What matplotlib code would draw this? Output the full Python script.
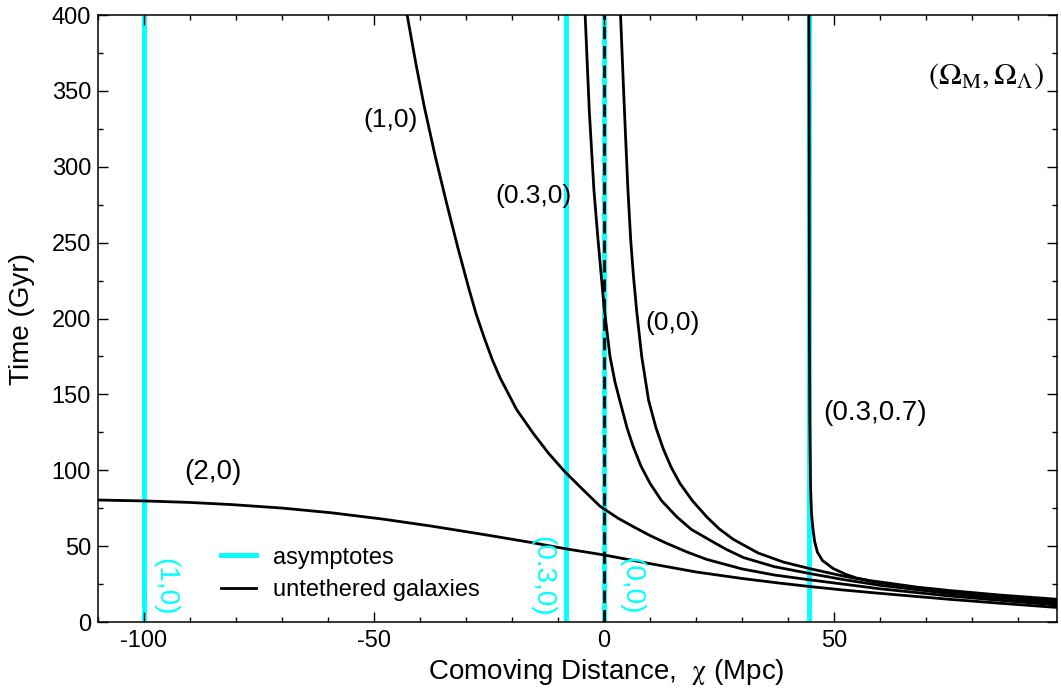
import matplotlib
matplotlib.use('Agg')
import matplotlib.pyplot as plt
from matplotlib.lines import Line2D
from matplotlib.ticker import MultipleLocator

plt.rcParams['font.family'] = ['Liberation Sans', 'DejaVu Sans']
plt.rcParams['mathtext.fontset'] = 'stix'
plt.rcParams['axes.unicode_minus'] = False

# asymptotes (comoving distance, Mpc)
asym_x = [-100, -8.3, 0, 44.6]

# untethered galaxy curves: chi (Mpc), t (Gyr)
chi_20 = [-110, -100, -90, -81, -70, -59.3, -48, -37.5, -26, -15.8, -8, 0, 10, 20,
          30, 38, 45, 52, 60, 75, 86, 98.5]
t_20 = [80.4, 79.8, 78.8, 77.4, 75.1, 72.0, 67.8, 63.2, 57.6, 52.4, 48.1, 44.2, 38.5, 33.0,
        28.7, 25.7, 23.3, 21.1, 18.9, 15.0, 12.4, 9.6]

chi_10 = [-42.8, -40.9, -39.1, -36.7, -34.3, -31.8, -29.5, -27.8, -26, -24.3, -22.6, -19,
          -15.4, -12, -8.5, -4.5, -0.9, 3, 6.4, 10, 13.6, 18, 22.3, 30, 37, 45, 60, 75, 86, 98.5]
t_10 = [400, 368, 340, 307, 277, 247, 221, 203, 187, 173, 161, 140,
        124.4, 111, 99, 87, 76.4, 68.5, 62.8, 57, 51.9, 46.2, 41.3, 35, 31, 27.7, 21.9, 17.2, 14.3, 11.2]

chi_030 = [-4.1, -3.2, -2.2, -1.3, 0, 1.3, 2.4, 3.6, 5, 6.3, 8, 10, 12.5, 15.8, 19, 23,
           26.5, 30.3, 37, 45, 52, 60, 75, 86, 98.5]
t_030 = [400, 337, 285, 252, 208, 175, 158, 144, 128, 116, 103, 91.4, 80, 69.4, 61, 54,
         48.0, 42.5, 36.5, 31.8, 28.0, 24.2, 18.8, 15.5, 12.6]

chi_00 = [3.6, 4.1, 4.6, 5.2, 5.8, 6.4, 7.1, 8.2, 9.7, 11.3, 12.9, 14.6, 16.5, 19.2, 22.3,
          25, 28.1, 33.5, 39, 45, 52, 60, 75, 86, 98.5]
t_00 = [400, 362, 326, 285, 252, 228, 205, 175, 146, 128, 114, 102, 91.4, 80, 69.4,
        61.5, 54.5, 45.5, 39.5, 35.0, 30.3, 25.8, 19.8, 16.6, 13.8]

chi_0307 = [44.55, 44.6, 44.65, 44.75, 44.9, 45.1, 45.4, 45.8, 46.4, 47.5, 49.8, 52.5, 54.9,
            58, 62.2, 68, 75, 86, 98.5]
t_0307 = [400, 300, 200, 130, 90, 72, 62, 53, 46, 40.5, 35.3, 31.5, 29,
          27.2, 25.5, 23, 20.8, 17.8, 15.0]

curves = [(chi_20, t_20), (chi_10, t_10), (chi_030, t_030), (chi_00, t_00), (chi_0307, t_0307)]

fig = plt.figure(figsize=(10.61, 6.89), dpi=100)
ax = fig.add_axes([0.0924, 0.0972, 0.9039, 0.881])

for x in asym_x:
    ax.axvline(x, color='cyan', lw=3.5, zorder=1)
ax.axvline(0, color='black', lw=2, dashes=(4.5, 2.5), zorder=2)

for chi, t in curves:
    ax.plot(chi, t, color='black', lw=2, zorder=3)

# curve labels
ax.text(-46.3, 331, '(1,0)', fontsize=19, ha='center', va='center')
ax.text(-15.4, 281, '(0.3,0)', fontsize=19, ha='center', va='center')
ax.text(14.8, 197, '(0,0)', fontsize=19, ha='center', va='center')
ax.text(59, 138, '(0.3,0.7)', fontsize=20, ha='center', va='center')
ax.text(-85, 99, '(2,0)', fontsize=20, ha='center', va='center')
ax.text(83, 360, r'$(\Omega_{\rm M},\Omega_\Lambda)$', fontsize=22, ha='center', va='center')

# asymptote labels
ax.text(-95.3, 23, '(1,0)', fontsize=20, color='cyan', rotation=-90, ha='center', va='center')
ax.text(-13.5, 30, '(0.3,0)', fontsize=20, color='cyan', rotation=-90, ha='center', va='center')
ax.text(5.9, 24, '(0,0)', fontsize=20, color='cyan', rotation=-90, ha='center', va='center')

handles = [Line2D([], [], color='cyan', lw=3.5), Line2D([], [], color='black', lw=2)]
ax.legend(handles, ['asymptotes', 'untethered galaxies'], loc='center left',
          bbox_to_anchor=(0.128, 0.079), frameon=False, fontsize=17, borderpad=0,
          borderaxespad=0, handlelength=1.5, handletextpad=0.7, labelspacing=0.45)

ax.set_xlim(-110, 98.5)
ax.set_ylim(0, 400)
ax.xaxis.set_major_locator(MultipleLocator(50))
ax.xaxis.set_minor_locator(MultipleLocator(10))
ax.yaxis.set_major_locator(MultipleLocator(50))
ax.yaxis.set_minor_locator(MultipleLocator(25))
ax.tick_params(which='both', direction='in', top=True, right=True, labelsize=17, width=1)
ax.tick_params(axis='x', which='major', length=7, pad=6)
ax.tick_params(axis='y', which='major', length=7, pad=5)
ax.tick_params(which='minor', length=3.5)
for s in ax.spines.values():
    s.set_linewidth(1.1)

ax.set_xlabel(r'Comoving Distance,  $\mathrm{\chi}$ (Mpc)', fontsize=20, labelpad=3)
ax.xaxis.label.set_x(0.53)
ax.set_ylabel('Time (Gyr)', fontsize=20, labelpad=12)

fig.savefig('out.png', dpi=100)
